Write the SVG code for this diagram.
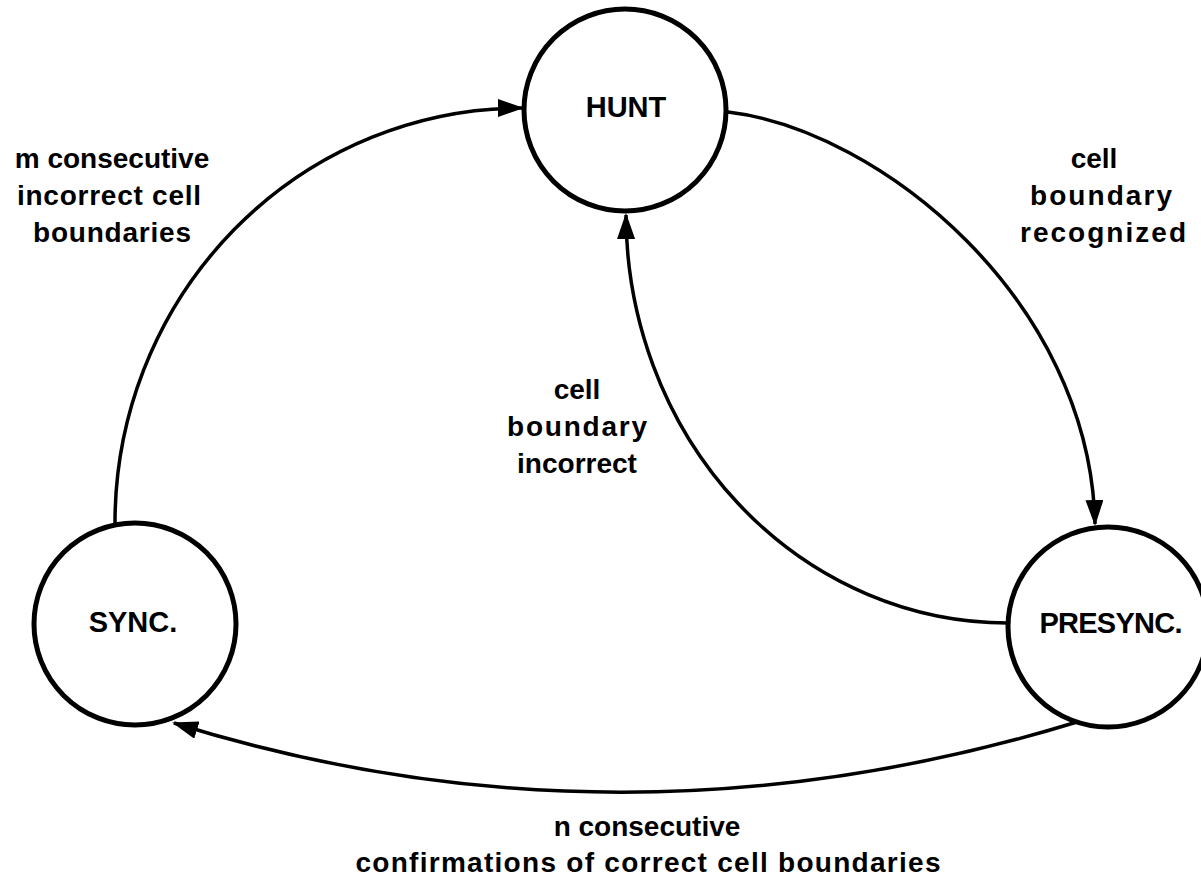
<svg xmlns="http://www.w3.org/2000/svg" width="1201" height="879" viewBox="0 0 1201 879">
  <style>
    .node { fill: #fff; stroke: #000; stroke-width: 5; }
    .edge { fill: none; stroke: #000; stroke-width: 3.5; marker-end: url(#arrow); }
    .lbl { font-family: "Liberation Sans", Arial, sans-serif; font-weight: bold; font-size: 28px; fill: #000; text-anchor: middle; }
    .nlbl { font-family: "Liberation Sans", Arial, sans-serif; font-weight: bold; font-size: 29px; fill: #000; text-anchor: middle; }
  </style>
  <defs>
    <marker id="arrow" viewBox="0 0 26 18" refX="24" refY="9" markerWidth="26" markerHeight="18" markerUnits="userSpaceOnUse" orient="auto">
      <path d="M0,0 L26,9 L0,18 Z" fill="#000"/>
    </marker>
  </defs>
  <rect width="1201" height="879" fill="#fff"/>

  <g id="connectors">
    <path id="e-sync-hunt" class="edge" d="M115,523 A407,415 0 0,1 522,108"/>
    <path id="e-hunt-presync" class="edge" d="M728,112 C880,130 1090,300 1095,524"/>
    <path id="e-presync-hunt" class="edge" d="M1008,623 A382,409 0 0,1 626,215"/>
    <path id="e-presync-sync" class="edge" d="M1077,722 Q620,862 174,723"/>
  </g>

  <g id="node-hunt">
    <circle class="node" cx="625" cy="110" r="101"/>
    <text class="nlbl" x="626" y="117">HUNT</text>
  </g>
  <g id="node-sync">
    <circle class="node" cx="135" cy="624" r="101"/>
    <text class="nlbl" x="133" y="632">SYNC.</text>
  </g>
  <g id="node-presync">
    <circle class="node" cx="1108" cy="627" r="100"/>
    <text class="nlbl" x="1111" y="633" textLength="143">PRESYNC.</text>
  </g>

  <g id="labels">
    <text class="lbl" x="112" y="168">m consecutive</text>
    <text class="lbl" x="109" y="205" textLength="184">incorrect cell</text>
    <text class="lbl" x="112" y="242" textLength="158">boundaries</text>

    <text class="lbl" x="1094" y="168">cell</text>
    <text class="lbl" x="1101" y="205" textLength="142">boundary</text>
    <text class="lbl" x="1103" y="242" textLength="166">recognized</text>

    <text class="lbl" x="577" y="399">cell</text>
    <text class="lbl" x="577" y="436" textLength="140">boundary</text>
    <text class="lbl" x="577" y="473">incorrect</text>

    <text class="lbl" x="647" y="836">n consecutive</text>
    <text class="lbl" x="648" y="872" textLength="585">confirmations of correct cell boundaries</text>
  </g>
</svg>
